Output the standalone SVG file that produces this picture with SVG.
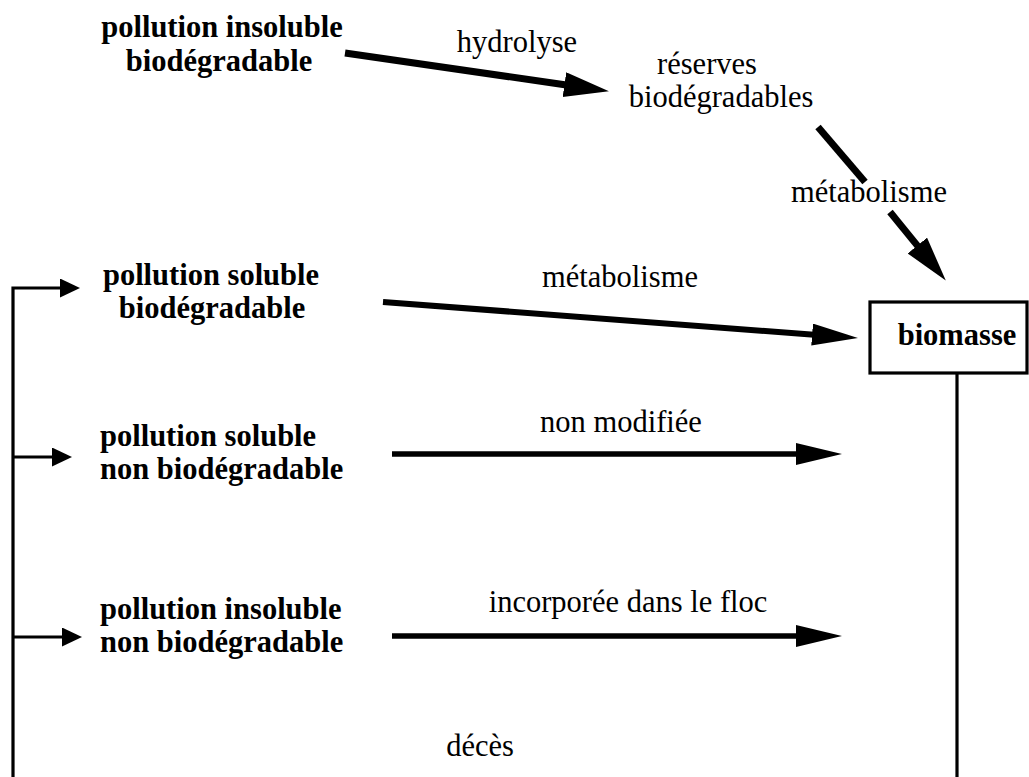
<svg xmlns="http://www.w3.org/2000/svg" width="1029" height="777" viewBox="0 0 1029 777">
<style>
.n{font-family:"Liberation Serif","Times New Roman",serif;font-weight:bold;font-size:30.5px;fill:#000}
.l{font-family:"Liberation Serif","Times New Roman",serif;font-size:30.5px;fill:#000}
.thick{stroke:#000;stroke-width:7;fill:none}
.mid{stroke:#000;stroke-width:6;fill:none}
.med{stroke:#000;stroke-width:5.5;fill:none}
.thin{stroke:#000;stroke-width:3.2;fill:none}
</style>
<defs>
<marker id="big" markerUnits="userSpaceOnUse" markerWidth="50" markerHeight="30" refX="2" refY="12.5" orient="auto">
<path d="M0,0 L45,12.5 L0,25 Z" fill="#000"/>
</marker>
<marker id="mida" markerUnits="userSpaceOnUse" markerWidth="50" markerHeight="30" refX="2" refY="11" orient="auto">
<path d="M0,0 L46,11 L0,22 Z" fill="#000"/>
</marker>
<marker id="small" markerUnits="userSpaceOnUse" markerWidth="24" markerHeight="22" refX="1" refY="9.5" orient="auto">
<path d="M0,0 L20,9.5 L0,19 Z" fill="#000"/>
</marker>
</defs>
<g id="connectors">
<line class="thick" x1="345" y1="53" x2="566.4" y2="85" marker-end="url(#big)"/>
<line class="thick" x1="818" y1="127" x2="865" y2="182"/>
<line class="thick" x1="890" y1="212" x2="918.6" y2="247.1" marker-end="url(#big)"/>
<line class="mid" x1="383" y1="302" x2="814.1" y2="334.7" marker-end="url(#mida)"/>
<line class="med" x1="392" y1="454" x2="798" y2="454" marker-end="url(#mida)"/>
<line class="med" x1="392" y1="636" x2="798" y2="636" marker-end="url(#mida)"/>
<polyline class="thin" points="13,777 13,288 61,288" marker-end="url(#small)"/>
<line class="thin" x1="13" y1="457" x2="53" y2="457" marker-end="url(#small)"/>
<line class="thin" x1="13" y1="637" x2="63" y2="637" marker-end="url(#small)"/>
<line class="thin" x1="957" y1="373" x2="957" y2="777"/>
<text class="l" x="517" y="52" text-anchor="middle">hydrolyse</text>
<text class="l" x="869" y="202" text-anchor="middle">métabolisme</text>
<text class="l" x="620" y="287" text-anchor="middle">métabolisme</text>
<text class="l" x="621" y="432" text-anchor="middle">non modifiée</text>
<text class="l" x="628" y="612" text-anchor="middle">incorporée dans le floc</text>
<text class="l" x="480" y="756" text-anchor="middle">décès</text>
</g>
<g id="n1">
<text class="n" x="222" y="37" text-anchor="middle">pollution insoluble</text>
<text class="n" x="219" y="71" text-anchor="middle">biodégradable</text>
</g>
<g id="n2">
<text class="l" x="707" y="74" text-anchor="middle">réserves</text>
<text class="l" x="721" y="107" text-anchor="middle">biodégradables</text>
</g>
<g id="n3">
<text class="n" x="211" y="285" text-anchor="middle">pollution soluble</text>
<text class="n" x="212" y="318" text-anchor="middle">biodégradable</text>
</g>
<g id="n4">
<text class="n" x="100" y="446">pollution soluble</text>
<text class="n" x="100" y="479">non biodégradable</text>
</g>
<g id="n5">
<text class="n" x="100" y="619">pollution insoluble</text>
<text class="n" x="100" y="652">non biodégradable</text>
</g>
<g id="biomasse">
<rect x="870" y="302" width="157" height="71" fill="#fff" stroke="#000" stroke-width="3.2"/>
<text class="n" x="957" y="345" text-anchor="middle">biomasse</text>
</g>
</svg>
